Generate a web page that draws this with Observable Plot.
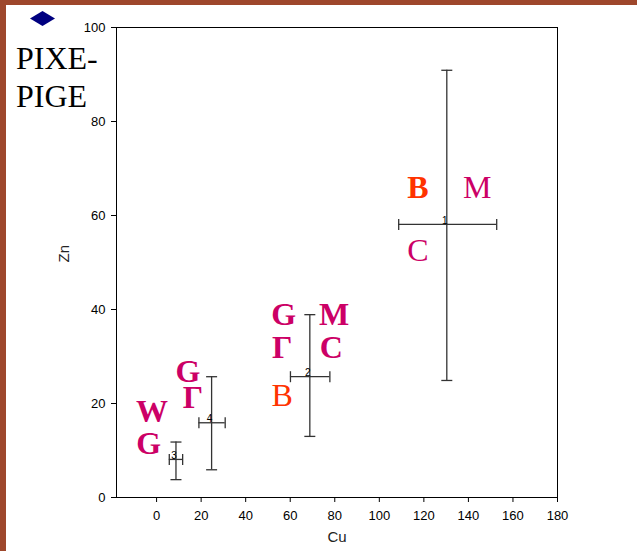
<!DOCTYPE html>
<html><head><meta charset="utf-8">
<script src="https://cdn.jsdelivr.net/npm/d3@7"></script>
<script src="https://cdn.jsdelivr.net/npm/@observablehq/plot@0.6"></script>
<style>
html,body{margin:0;padding:0;background:#fff;}
#wrap{position:relative;width:637px;height:551px;overflow:hidden;background:#fff;}
#chart{position:absolute;left:0;top:0;}
#bl{position:absolute;left:0;top:0;width:6px;height:551px;background:#9e472c;}
#bt{position:absolute;left:0;top:0;width:637px;height:5px;background:#9e472c;}
#title{position:absolute;left:16px;top:39px;font-family:"Liberation Serif",serif;font-size:32px;line-height:38px;color:#000;}
#diamond{position:absolute;left:30px;top:11px;}
</style>
</head><body>
<div id="wrap">
  <div id="chart"></div>
  <div id="bl"></div>
  <div id="bt"></div>
  <svg id="diamond" width="25" height="15"><polygon points="12.5,0 25,7.5 12.5,15 0,7.5" fill="#000080"/></svg>
  <div id="title">PIXE-<br>PIGE</div>
</div>
<script>
// ---- data ----
const ids  = ["1", "2", "3", "4"];
const cu   = [130.3, 68.8, 8.7, 24.7];
const cuLo = [108.7, 60.1, 5.7, 19.0];
const cuHi = [152.7, 77.8, 11.7, 30.8];
const zn   = [58.1, 25.7, 8.1, 15.9];
const znLo = [24.9, 13.0, 3.8, 5.9];
const znHi = [90.9, 38.9, 11.8, 25.7];

const letters  = ["B", "M", "C", "G", "M", "Γ", "C", "B", "G", "Γ", "W", "G"];
const letterCu = [117.3, 144.0, 117.3, 57.1, 79.7, 56.4, 78.4, 56.4, 14.1, 16.3, -2.1, -3.5];
const letterZn = [66.0, 66.0, 52.4, 38.8, 38.8, 31.8, 31.8, 21.7, 26.8, 21.3, 18.3, 11.5];

const xTicks = [0, 20, 40, 60, 80, 100, 120, 140, 160, 180];
const yTicks = [0, 20, 40, 60, 80, 100];

// ---- build tables ----
const points = ids.map((id, i) => ({id, cu: cu[i], cuLo: cuLo[i], cuHi: cuHi[i], zn: zn[i], znLo: znLo[i], znHi: znHi[i]}));
const labels = letters.map((t, i) => ({i, text: t, cu: letterCu[i], zn: letterZn[i]}));

const regular = new Set([1, 2, 7]);
const MAGENTA = "#cc0066", ORANGE = "#ff3300";
const hbar = {draw(ctx, size) { const r = Math.sqrt(size / Math.PI); ctx.moveTo(-r, 0); ctx.lineTo(r, 0); }};
const vbar = {draw(ctx, size) { const r = Math.sqrt(size / Math.PI); ctx.moveTo(0, -r); ctx.lineTo(0, r); }};
const EB = "#333";

const letterMark = (bold, color) => Plot.text(labels, {
  filter: d => (regular.has(d.i) !== bold) && ((d.text === "B") === (color === ORANGE)),
  x: "cu", y: "zn", text: "text", fill: color,
  fontFamily: "Liberation Serif", fontSize: 32, fontWeight: bold ? "bold" : "normal",
  textAnchor: "middle", lineAnchor: "middle"
});

const chart = Plot.plot({
  width: 637, height: 551,
  marginLeft: 116, marginRight: 80, marginTop: 27, marginBottom: 54,
  style: {background: "transparent", fontFamily: "Liberation Sans, Arial, sans-serif", color: "#000"},
  x: {domain: [-18, 180]},
  y: {domain: [0, 100]},
  marks: [
    Plot.axisX({ticks: xTicks, tickSize: 5, tickPadding: 8, fontSize: 13, label: null, stroke: "#000"}),
    Plot.axisY({ticks: yTicks, tickSize: 5, tickPadding: 6, fontSize: 13, label: null, stroke: "#000"}),
    Plot.frame({stroke: "#000"}),
    Plot.text(["Cu"], {frameAnchor: "bottom", dy: 44, fontSize: 15, fill: "#222"}),
    Plot.text(["Zn"], {frameAnchor: "left", dx: -52, rotate: -90, fontSize: 15, fill: "#222"}),
    Plot.ruleY(points, {y: "zn", x1: "cuLo", x2: "cuHi", stroke: EB, strokeWidth: 1.3}),
    Plot.ruleX(points, {x: "cu", y1: "znLo", y2: "znHi", stroke: EB, strokeWidth: 1.3}),
    Plot.dot(points, {x: "cu", y: "znLo", symbol: hbar, r: 5.5, stroke: EB, fill: "none", strokeWidth: 1.3}),
    Plot.dot(points, {x: "cu", y: "znHi", symbol: hbar, r: 5.5, stroke: EB, fill: "none", strokeWidth: 1.3}),
    Plot.dot(points, {x: "cuLo", y: "zn", symbol: vbar, r: 5.5, stroke: EB, fill: "none", strokeWidth: 1.3}),
    Plot.dot(points, {x: "cuHi", y: "zn", symbol: vbar, r: 5.5, stroke: EB, fill: "none", strokeWidth: 1.3}),
    Plot.text(points, {x: "cu", y: "zn", text: "id", dx: -2, dy: -4, fontSize: 10, fill: "#000"}),
    letterMark(true, MAGENTA),
    letterMark(false, MAGENTA),
    letterMark(true, ORANGE),
    letterMark(false, ORANGE)
  ]
});
document.getElementById("chart").appendChild(chart);
</script>
</body></html>
